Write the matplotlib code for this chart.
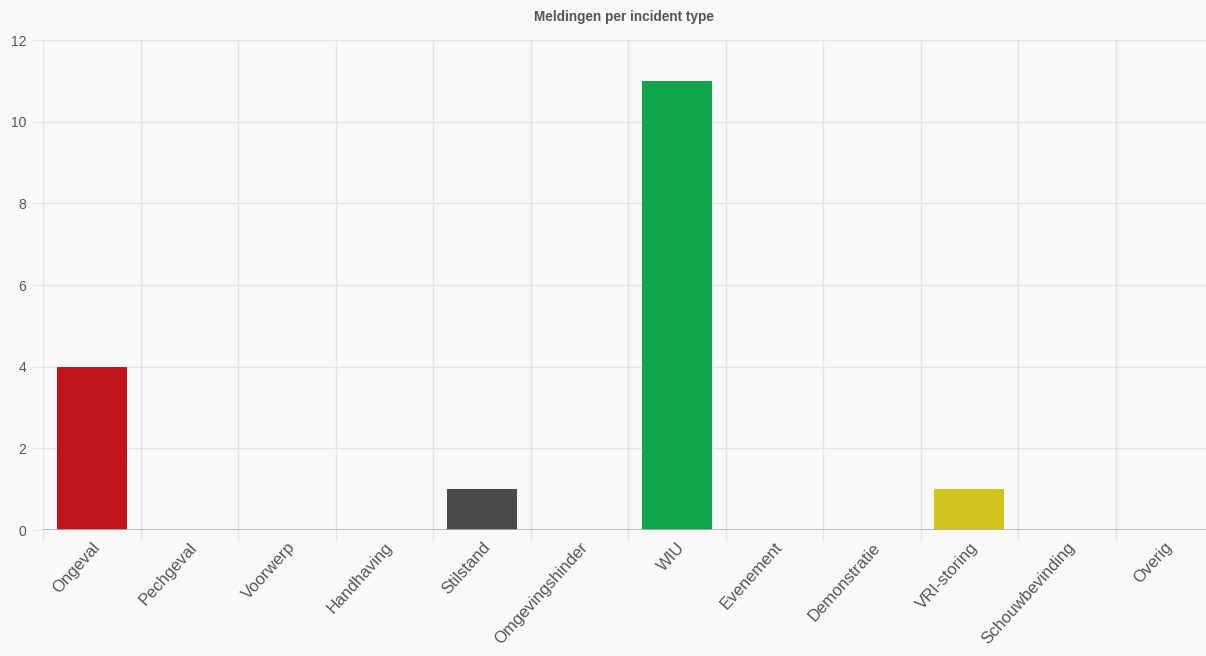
import matplotlib
matplotlib.use("Agg")
import matplotlib.pyplot as plt

# chart data
categories = ["Ongeval", "Pechgeval", "Voorwerp", "Handhaving", "Stilstand",
              "Omgevingshinder", "WIU", "Evenement", "Demonstratie",
              "VRI-storing", "Schouwbevinding", "Overig"]
counts = [4, 0, 0, 0, 1, 0, 11, 0, 0, 1, 0, 0]
bar_colors = ["#c1161c", "#c1161c", "#c1161c", "#c1161c", "#4a4a4a", "#4a4a4a",
              "#12a64a", "#12a64a", "#12a64a", "#d2c41c", "#d2c41c", "#d2c41c"]
y_ticks = [0, 2, 4, 6, 8, 10, 12]

plt.rcParams['font.family'] = ['Liberation Sans', 'DejaVu Sans']

W, H = 1206, 656
fig = plt.figure(figsize=(W / 100, H / 100), dpi=100)
fig.patch.set_facecolor("#f9f9f9")

# axes box in pixels (right edge runs slightly past the canvas like the screenshot)
left, right, top, bottom = 43, 1213, 40, 530
ax = fig.add_axes([left / W, 1 - bottom / H, (right - left) / W, (bottom - top) / H])
ax.set_facecolor("#f9f9f9")

n = len(categories)
xs = list(range(n))
ax.bar(xs, counts, width=0.72, color=bar_colors, zorder=3)

ax.set_xlim(-0.5, n - 0.5)
ax.set_ylim(0, 12)

# grid: vertical lines at category boundaries, horizontal at y ticks
for b in range(n + 1):
    ax.axvline(b - 0.5, color="#e4e4e4", lw=1, zorder=1)
    ax.plot([b - 0.5, b - 0.5], [0, -0.25], color="#e4e4e4", lw=1,
            clip_on=False, zorder=1)
for t in y_ticks[1:]:
    ax.axhline(t, color="#e4e4e4", lw=1, zorder=1)
ax.axhline(0, color="#b0b0b0", lw=1.2, zorder=4)

for s in ax.spines.values():
    s.set_visible(False)

ax.set_yticks(y_ticks)
ax.set_yticklabels([str(t) for t in y_ticks])
ax.tick_params(axis="y", length=8, color="#e4e4e4", labelcolor="#555555",
               labelsize=10, pad=4)
ax.set_xticks(xs)
ax.set_xticklabels(categories, rotation=48, ha="right", rotation_mode="anchor")
ax.tick_params(axis="x", length=0, labelcolor="#555555", labelsize=12, pad=7)

fig.text((left + 1206) / 2 / W, 1 - 17 / H, "Meldingen per incident type",
         ha="center", va="center", fontsize=9.8, fontweight="bold", color="#555555")

fig.savefig("out.png", dpi=100, facecolor=fig.get_facecolor())
